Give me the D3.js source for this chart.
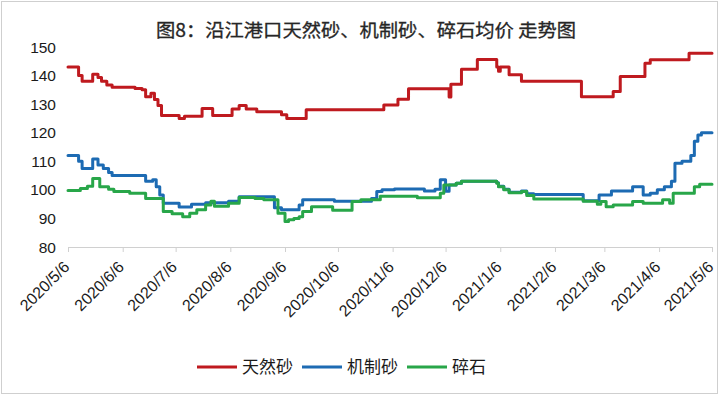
<!DOCTYPE html>
<html>
<head>
<meta charset="utf-8">
<script src="https://cdn.jsdelivr.net/npm/d3@7"></script>
<style>
  html, body { margin: 0; padding: 0; background: #fff; }
  svg { display: block; }
</style>
</head>
<body>
<svg id="chart" width="720" height="396"></svg>
<script>
const title = "图8：沿江港口天然砂、机制砂、碎石均价 走势图";
const seriesNames = ["天然砂", "机制砂", "碎石"];
const seriesColors = ["#bf1a1f", "#1d6bb3", "#28a649"];
const yTicks = [80, 90, 100, 110, 120, 130, 140, 150];
const tickLabels = ["2020/5/6","2020/6/6","2020/7/6","2020/8/6","2020/9/6","2020/10/6","2020/11/6",
                    "2020/12/6","2021/1/6","2021/2/6","2021/3/6","2021/4/6","2021/5/6"];

// 天然砂 (step breakpoints: date, price)
const naturalSand = [
  ["2020-05-06",143],["2020-05-12",140],["2020-05-14",138],["2020-05-20",140.5],["2020-05-23",139.3],
  ["2020-05-25",138],["2020-05-28",136.7],["2020-05-31",135.9],["2020-06-13",135.5],["2020-06-17",135],
  ["2020-06-19",132.6],["2020-06-22",133.8],["2020-06-24",131.6],["2020-06-26",129.5],["2020-06-28",126],
  ["2020-07-08",125],["2020-07-11",125.8],["2020-07-21",128.5],["2020-07-27",126],["2020-08-07",128.3],
  ["2020-08-11",129.5],["2020-08-15",128.3],["2020-08-21",127.3],["2020-09-04",126.3],["2020-09-07",125],
  ["2020-09-18",128],["2020-11-01",129.7],["2020-11-09",131.7],["2020-11-15",135.4],["2020-12-08",132.5],
  ["2020-12-09",137],["2020-12-15",142.2],["2020-12-24",145.6],["2021-01-04",143],["2021-01-05",141.5],
  ["2021-01-06",143],["2021-01-11",140.3],["2021-01-18",138],["2021-02-21",132.6],["2021-03-11",134.4],
  ["2021-03-15",139.7],["2021-03-29",144.3],["2021-04-01",145.5],["2021-04-23",147.8],["2021-05-06",147.8]
];

// 机制砂
const machineSand = [
  ["2020-05-06",112],["2020-05-12",110],["2020-05-14",107.5],["2020-05-20",110.8],["2020-05-23",108.7],
  ["2020-05-26",107.5],["2020-05-29",106.1],["2020-05-31",105],["2020-06-19",103],["2020-06-23",103.5],
  ["2020-06-25",101.1],["2020-06-27",98.2],["2020-06-29",95.3],["2020-07-08",94],["2020-07-15",95],
  ["2020-07-23",95.5],["2020-08-05",96],["2020-08-11",97.6],["2020-08-31",93.7],["2020-09-04",93],
  ["2020-09-14",94.7],["2020-09-16",96.5],["2020-10-04",96],["2020-10-25",97],["2020-10-28",99.4],
  ["2020-10-31",100],["2020-11-07",100.3],["2020-11-24",99.6],["2020-11-30",100.2],["2020-12-03",103.5],
  ["2020-12-06",99.5],["2020-12-08",101.7],["2020-12-12",102.3],["2020-12-15",103],["2021-01-04",102.5],
  ["2021-01-05",101.3],["2021-01-08",100.2],["2021-01-11",99.2],["2021-01-18",99.6],["2021-01-21",98.6],
  ["2021-01-25",98.4],["2021-02-22",96.2],["2021-03-03",98.2],["2021-03-10",99.6],["2021-03-22",101.1],
  ["2021-03-28",98.2],["2021-04-01",98.8],["2021-04-05",100],["2021-04-09",101.1],["2021-04-13",103],
  ["2021-04-15",109.3],["2021-04-19",110],["2021-04-24",112],["2021-04-26",117],["2021-04-28",119.2],
  ["2021-04-30",120],["2021-05-06",120]
];

// 碎石
const gravel = [
  ["2020-05-06",99.8],["2020-05-13",100.5],["2020-05-17",101.3],["2020-05-20",104],["2020-05-24",101.1],
  ["2020-05-29",100.2],["2020-06-01",99.4],["2020-06-10",98.8],["2020-06-19",97],["2020-06-29",92.4],
  ["2020-07-04",91.6],["2020-07-10",90.6],["2020-07-14",91.8],["2020-07-18",93],["2020-07-23",94.7],
  ["2020-07-26",96],["2020-07-28",94.3],["2020-08-05",95.3],["2020-08-11",97.3],["2020-08-20",97],
  ["2020-08-25",96.5],["2020-09-02",91.8],["2020-09-06",88.9],["2020-09-08",89.5],["2020-09-11",90],
  ["2020-09-14",90.6],["2020-09-16",92.4],["2020-09-21",94.1],["2020-10-03",92.9],["2020-10-14",95.9],
  ["2020-10-19",96.5],["2020-10-30",97.8],["2020-11-20",97.2],["2020-12-03",98.8],["2020-12-05",101.7],
  ["2020-12-12",102.3],["2020-12-15",103],["2021-01-04",102.3],["2021-01-05",101.1],["2021-01-08",100],
  ["2021-01-11",99],["2021-01-18",99.4],["2021-01-21",98],["2021-01-25",96.8],["2021-02-22",96],
  ["2021-03-02",95],["2021-03-04",95.9],["2021-03-07",94.1],["2021-03-11",94.7],["2021-03-22",95.9],
  ["2021-03-28",95.3],["2021-04-08",96.5],["2021-04-12",95.3],["2021-04-14",98.8],["2021-04-26",101.1],
  ["2021-04-29",102],["2021-05-06",102]
];

const parseD = d3.timeParse("%Y-%m-%d");
const parseTick = d3.timeParse("%Y/%m/%d");
const allSeries = [naturalSand, machineSand, gravel].map(s => s.map(([d, v]) => ({date: parseD(d), value: v})));
const tickDates = tickLabels.map(t => parseTick(t));

const svg = d3.select("#chart");
const W = 720, H = 396;
const fontStack = "'Noto Sans CJK SC', 'Liberation Sans', Arial, sans-serif";

// frame
svg.append("rect").attr("x", 1.5).attr("y", 1.5).attr("width", W - 4).attr("height", H - 4)
  .attr("fill", "#fff").attr("stroke", "#cfcfcf").attr("stroke-width", 1);

const x = d3.scaleTime().domain([tickDates[0], tickDates[tickDates.length - 1]]).range([68, 712]);
const y = d3.scaleLinear().domain([80, 150]).range([247, 47]);

// title
svg.append("text").attr("x", 366).attr("y", 37).attr("text-anchor", "middle")
  .style("font-family", fontStack).style("font-size", "18px").attr("fill", "#262626")
  .attr("stroke", "#262626").attr("stroke-width", 0.3)
  .attr("textLength", 420).attr("lengthAdjust", "spacingAndGlyphs")
  .text(title);

// y axis labels
svg.append("g").selectAll("text").data(yTicks).join("text")
  .attr("x", 56).attr("y", d => y(d)).attr("dy", "0.36em").attr("text-anchor", "end")
  .style("font-family", "'Liberation Sans', Arial, sans-serif").style("font-size", "15.5px")
  .attr("fill", "#1a1a1a").text(d => d);

// x axis
const xAxis = d3.axisBottom(x).tickValues(tickDates).tickSize(5).tickFormat("");
const gx = svg.append("g").attr("transform", `translate(0,${y(80)})`).call(xAxis);
gx.select(".domain").attr("stroke", "#d0d0d0");
gx.selectAll(".tick line").attr("stroke", "#d0d0d0");

svg.append("g").selectAll("text").data(tickDates).join("text")
  .attr("transform", (d, i) => `translate(${x(d) - 1.5},${y(80) + 17}) rotate(-45)`)
  .attr("text-anchor", "end").attr("dy", "0.35em")
  .style("font-family", "'Liberation Sans', Arial, sans-serif").style("font-size", "16px")
  .attr("fill", "#1a1a1a").text((d, i) => tickLabels[i]);

// lines
const line = d3.line().x(d => x(d.date)).y(d => y(d.value)).curve(d3.curveStepAfter);
svg.append("g").selectAll("path").data(allSeries).join("path")
  .attr("d", line).attr("fill", "none")
  .attr("stroke", (d, i) => seriesColors[i]).attr("stroke-width", 3)
  .attr("stroke-linejoin", "round").attr("stroke-linecap", "round");

// legend
const legendX = [197, 302, 407];
const lg = svg.append("g").selectAll("g").data(seriesNames).join("g")
  .attr("transform", (d, i) => `translate(${legendX[i]},367)`);
lg.append("line").attr("x1", 0).attr("x2", 40).attr("y1", 0).attr("y2", 0)
  .attr("stroke", (d, i) => seriesColors[i]).attr("stroke-width", 3);
lg.append("text").attr("x", 45).attr("y", 0).attr("dy", "0.36em")
  .style("font-family", fontStack).style("font-size", "17px").attr("fill", "#1a1a1a")
  .text(d => d);
</script>
</body>
</html>
